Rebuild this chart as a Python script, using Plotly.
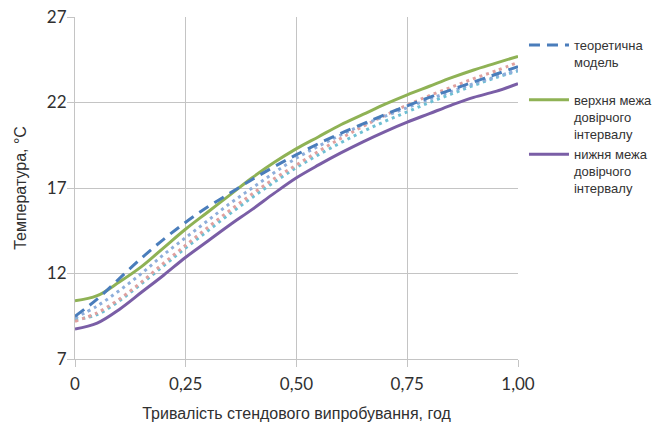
import plotly.graph_objects as go

x_hours = [0, 0.05, 0.10, 0.15, 0.20, 0.25, 0.30, 0.35, 0.40, 0.45, 0.50,
           0.55, 0.60, 0.65, 0.70, 0.75, 0.80, 0.85, 0.90, 0.95, 1.00]

theory = [9.5, 10.5, 11.7, 12.9, 14.0, 15.0, 15.9, 16.7, 17.5, 18.25, 18.95,
          19.6, 20.2, 20.75, 21.3, 21.8, 22.3, 22.75, 23.2, 23.65, 24.1]
upper = [10.4, 10.7, 11.5, 12.4, 13.5, 14.6, 15.6, 16.6, 17.6, 18.5, 19.3,
         20.0, 20.7, 21.3, 21.9, 22.45, 22.95, 23.45, 23.9, 24.3, 24.7]
lower = [8.75, 9.1, 9.9, 10.9, 11.9, 12.95, 13.9, 14.85, 15.75, 16.7, 17.6,
         18.35, 19.05, 19.7, 20.3, 20.85, 21.35, 21.85, 22.3, 22.65, 23.1]
exp_blue = [9.4, 10.1, 11.0, 12.0, 13.1, 14.1, 15.1, 16.1, 17.0, 17.9, 18.75,
            19.45, 20.1, 20.7, 21.2, 21.7, 22.2, 22.65, 23.1, 23.5, 23.9]
exp_pink = [9.2, 9.7, 10.5, 11.5, 12.6, 13.65, 14.7, 15.7, 16.65, 17.55, 18.35,
            19.15, 19.9, 20.6, 21.25, 21.85, 22.4, 22.9, 23.4, 23.85, 24.35]
exp_teal = [9.3, 9.6, 10.4, 11.4, 12.45, 13.5, 14.5, 15.5, 16.45, 17.35, 18.2,
            18.95, 19.65, 20.3, 20.9, 21.45, 22.0, 22.5, 23.0, 23.45, 23.85]

x_ticks = [0, 0.25, 0.50, 0.75, 1.00]
x_tick_labels = ["0", "0,25", "0,50", "0,75", "1,00"]
y_ticks = [7, 12, 17, 22, 27]

names = ["теоретична<br>модель<br>\u00a0", "верхня межа<br>довірчого<br>інтервалу",
         "нижня межа<br>довірчого<br>інтервалу"]

fig = go.Figure()

# experimental dotted series (not in legend)
for ys, col in [(exp_teal, "#6fbfd3"), (exp_pink, "#e0a09e"), (exp_blue, "#8eaedb")]:
    fig.add_trace(go.Scatter(x=x_hours, y=ys, mode="lines", showlegend=False,
                             line=dict(color=col, width=3, dash="3px,4px"),
                             line_shape="spline"))

fig.add_trace(go.Scatter(x=x_hours, y=upper, mode="lines", name=names[1],
                         legendgroup="b", legendrank=2,
                         line=dict(color="#8fb255", width=3), line_shape="spline"))
fig.add_trace(go.Scatter(x=x_hours, y=lower, mode="lines", name=names[2],
                         legendgroup="c", legendrank=3,
                         line=dict(color="#7a5ea6", width=3), line_shape="spline"))
fig.add_trace(go.Scatter(x=x_hours, y=theory, mode="lines", name=names[0],
                         legendgroup="a", legendrank=1,
                         line=dict(color="#4a7dbb", width=3, dash="11px,7px"),
                         line_shape="spline"))

fig.update_layout(
    width=657, height=430,
    margin=dict(l=75, r=139, t=17, b=71, autoexpand=False),
    paper_bgcolor="white", plot_bgcolor="white",
    font=dict(family="Liberation Sans, Arial, sans-serif", color="#404040"),
    legend=dict(x=1.0135, y=0.962, xanchor="left", yanchor="top", valign="top",
                font=dict(size=13, color="#333333"),
                tracegroupgap=1, itemwidth=40, traceorder="grouped"),
    xaxis=dict(range=[0, 1], tickvals=x_ticks, ticktext=x_tick_labels,
               showgrid=True, gridcolor="#c4c4c4", gridwidth=1,
               showline=True, linecolor="#c4c4c4", linewidth=1,
               ticks="outside", ticklen=7, tickcolor="#c4c4c4",
               zeroline=False, automargin=False, ticklabelstandoff=3,
               tickfont=dict(family="Lato, Open Sans, sans-serif", size=17, color="#303030"),
               title=dict(text="Тривалість стендового випробування, год",
                          font=dict(size=16, color="#303030"), standoff=14)),
    yaxis=dict(range=[7, 27], tickvals=y_ticks,
               showgrid=True, gridcolor="#c4c4c4", gridwidth=1,
               showline=True, linecolor="#c4c4c4", linewidth=1,
               ticks="outside", ticklen=7, tickcolor="#c4c4c4",
               zeroline=False, automargin=False, ticklabelstandoff=-3,
               tickfont=dict(family="Lato, Open Sans, sans-serif", size=17, color="#303030"),
               title=dict(text="Температура, °C",
                          font=dict(size=16, color="#303030"), standoff=16)),
)

fig.write_html("out.html", config={"displayModeBar": False},
               post_script="document.body.style.margin='0';")
